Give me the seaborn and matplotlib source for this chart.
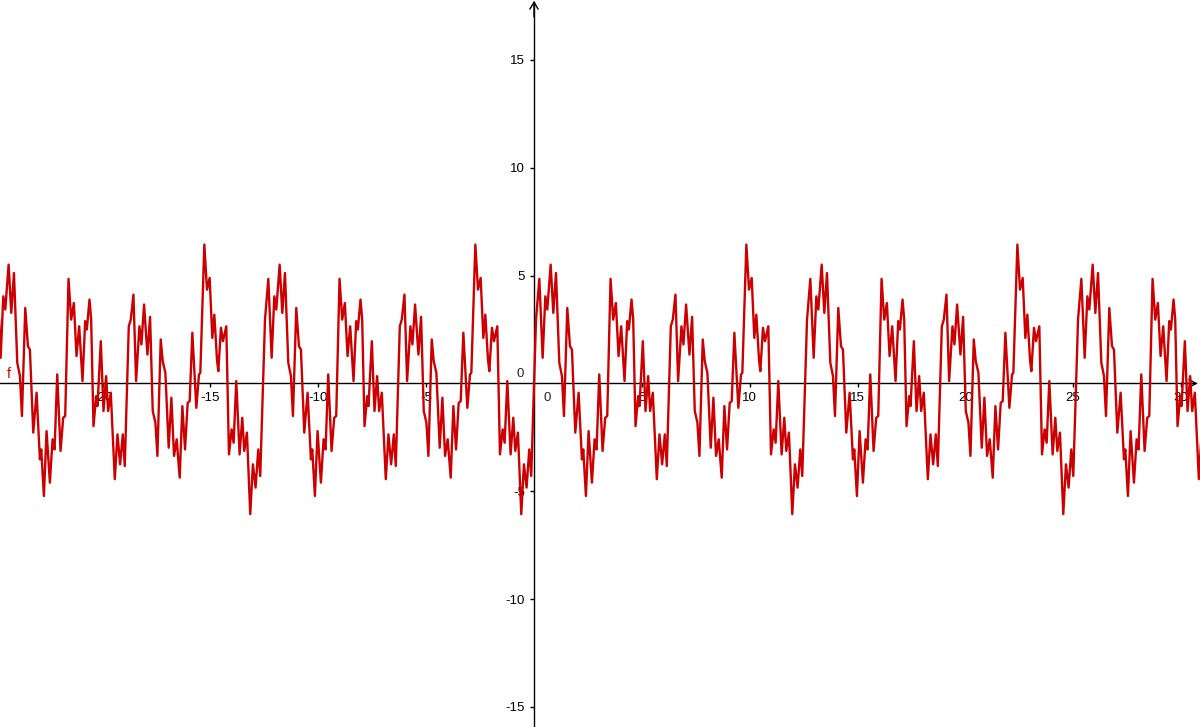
import numpy as np
import pandas as pd
import matplotlib
matplotlib.use("Agg")
import matplotlib.pyplot as plt
import seaborn as sns

# one period of f, vertices (x in units, y in units)
PERIOD = 12.566
PERIOD_X = [0.000, 0.093, 0.247, 0.401, 0.525, 0.617, 0.772, 0.895, 1.019, 1.173,
            1.296, 1.389, 1.543, 1.667, 1.759, 1.914, 2.068, 2.222, 2.284, 2.407,
            2.531, 2.685, 2.809, 2.901, 3.025, 3.179, 3.302, 3.395, 3.549, 3.673,
            3.796, 3.920, 4.043, 4.198, 4.321, 4.398, 4.522, 4.599, 4.707, 4.830,
            4.892, 5.046, 5.170, 5.293, 5.386, 5.509, 5.694, 5.818, 5.941, 6.065,
            6.157, 6.343, 6.435, 6.559, 6.682, 6.836, 6.929, 7.052, 7.207, 7.330,
            7.454, 7.577, 7.670, 7.824, 7.917, 8.040, 8.194, 8.318, 8.441, 8.565,
            8.704, 8.827, 8.951, 9.074, 9.167, 9.290, 9.475, 9.599, 9.660, 9.846,
            9.969, 10.093, 10.216, 10.309, 10.432, 10.494, 10.617, 10.710, 10.864, 10.988,
            11.111, 11.204, 11.327, 11.481, 11.605, 11.698, 11.821, 11.975, 12.099, 12.222,
            12.346, 12.438]
PERIOD_Y = [0.00, 2.96, 4.85, 1.19, 4.04, 3.43, 5.51, 3.27, 5.12, 0.96,
            0.34, -1.51, 3.50, 1.73, 1.57, -2.28, -0.43, -3.52, -3.06, -5.22,
            -2.21, -4.60, -2.59, -3.06, 0.42, -3.13, -1.59, -1.51, 4.85, 2.96,
            3.73, 1.27, 2.65, 0.11, 2.89, 2.50, 3.89, 2.96, -1.98, -0.59,
            -1.05, 1.96, -1.28, 0.34, -1.28, -0.43, -4.44, -2.36, -3.75, -2.36,
            -3.83, 2.65, 2.96, 4.12, 0.11, 2.65, 1.81, 3.66, 1.34, 3.09,
            -1.28, -1.82, -3.36, 2.04, 1.03, 0.49, -2.98, -0.66, -3.36, -2.59,
            -4.37, -1.05, -3.06, -0.90, -0.82, 2.35, -1.13, 0.42, 0.49, 6.44,
            4.35, 4.89, 2.11, 3.19, 1.11, 0.57, 2.58, 1.96, 2.65, -3.29,
            -2.13, -2.75, 0.11, -3.29, -1.59, -3.13, -2.28, -6.06, -3.75, -4.83,
            -3.06, -4.29]

X_TICKS = [-20, -15, -10, -5, 5, 10, 15, 20, 25, 30]
Y_TICKS = [-15, -10, -5, 5, 10, 15]

RED = "#cc0000"

sns.set_theme(style="white")
plt.rcParams["font.family"] = ["Liberation Sans", "DejaVu Sans"]
plt.rcParams["axes.unicode_minus"] = False

# the curve repeats, so lay the read period side by side over the view
xs = np.concatenate([np.array(PERIOD_X) + k * PERIOD for k in range(-2, 3)])
ys = np.tile(PERIOD_Y, 5)
df = pd.DataFrame({"x": xs, "f": ys})

fig = plt.figure(figsize=(12, 7.27), dpi=100)
ax = fig.add_axes([0, 0, 1, 1])

sns.lineplot(data=df, x="x", y="f", ax=ax, color=RED, lw=1.7,
             sort=False, estimator=None, zorder=3,
             solid_joinstyle="round", solid_capstyle="round")

ax.set_xlim(-24.76, 30.88)
ax.set_ylim(-15.93, 17.78)
ax.set_xlabel("")
ax.set_ylabel("")

# axes through the origin, GeoGebra style
for side in ["top", "right"]:
    ax.spines[side].set_visible(False)
for side in ["left", "bottom"]:
    ax.spines[side].set_position("zero")
    ax.spines[side].set_color("black")
    ax.spines[side].set_linewidth(1.0)
    ax.spines[side].set_zorder(1)
ax.spines["bottom"].set_bounds(-24.76, 30.7)
ax.spines["left"].set_bounds(-15.93, 17.7)
ax.set_axisbelow(True)

ax.set_xticks(X_TICKS)
ax.set_xticklabels([str(v) for v in X_TICKS])
ax.set_yticks(Y_TICKS)
ax.set_yticklabels([str(v) for v in Y_TICKS])
ax.tick_params(direction="out", length=3, width=1, pad=3.5, labelsize=9.5,
               colors="black", bottom=True, left=True)

arrow = dict(arrowstyle="->,head_length=0.5,head_width=0.3", lw=1.0,
             color="black", mutation_scale=10, shrinkA=0, shrinkB=0)
ax.annotate("", xy=(30.75, 0), xytext=(30.0, 0), arrowprops=arrow, zorder=1)
ax.annotate("", xy=(0, 17.74), xytext=(0, 17.0), arrowprops=arrow, zorder=1)

# origin labels
ax.annotate("0", xy=(0, 0), xytext=(-7.5, 2.5), textcoords="offset points",
            ha="right", va="bottom", fontsize=9.5, zorder=1)
ax.annotate("0", xy=(0, 0), xytext=(6.5, -6.5), textcoords="offset points",
            ha="left", va="top", fontsize=9.5, zorder=1)

ax.text(-24.43, 0.1, "f", color=RED, fontsize=10, ha="left", va="bottom")

fig.savefig("out.png", dpi=100)
